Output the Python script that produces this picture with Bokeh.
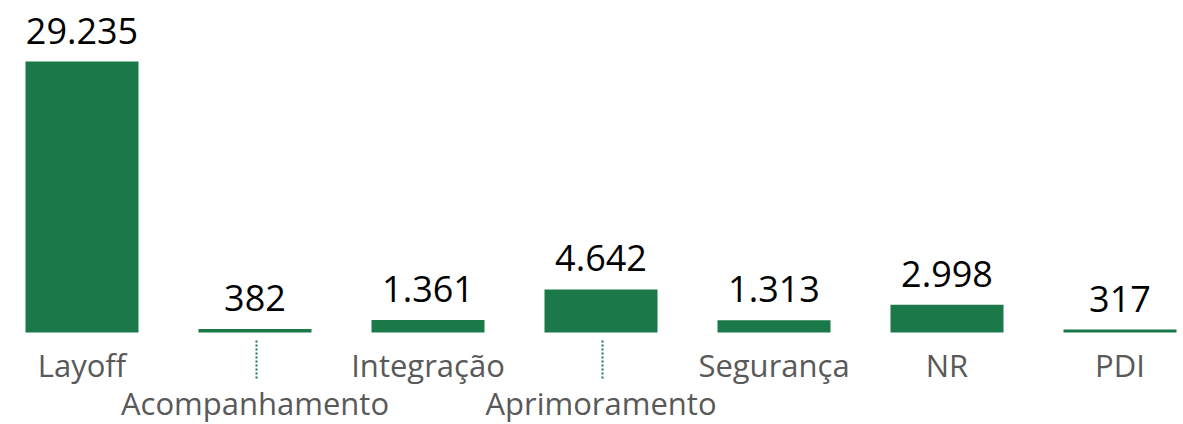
from bokeh.plotting import figure
from bokeh.models import Range1d, ColumnDataSource
from bokeh.core.properties import value
from bokeh.embed import file_html
from bokeh.resources import INLINE

categories = ["Layoff", "Acompanhamento", "Integração", "Aprimoramento", "Segurança", "NR", "PDI"]
values = [29235, 382, 1361, 4642, 1313, 2998, 317]
value_labels = ["29.235", "382", "1.361", "4.642", "1.313", "2.998", "317"]
label_row = [0, 1, 0, 1, 0, 0, 0]  # 1 = staggered lower row with leader line

W, H = 1183, 424
base_px = 332          # baseline position in frame px from top
px_per_unit_y = 271 / 29235.0
ymax = base_px / px_per_unit_y
ymin = -(H - base_px) / px_per_unit_y
x_px = 173.0
x0_px = 81.5
xs = list(range(len(categories)))

p = figure(width=W, height=H, output_backend="svg", toolbar_location=None,
           x_range=Range1d(-x0_px / x_px, (W - x0_px) / x_px),
           y_range=Range1d(ymin, ymax),
           min_border=0, min_border_left=0, min_border_right=0,
           min_border_top=0, min_border_bottom=0)
p.axis.visible = False
p.grid.visible = False
p.outline_line_color = None
p.background_fill_color = "white"
p.border_fill_color = "white"

src = ColumnDataSource(dict(x=xs, top=values, lbl=value_labels, cat=categories))
p.vbar(x="x", top="top", bottom=0, width=113 / x_px, source=src,
       fill_color="#1A7849", line_color=None)

p.text(x="x", y="top", text="lbl", source=src, text_align="center",
       text_baseline="bottom", y_offset=-18, text_font=value("Open Sans"),
       text_font_size="36px", text_color="#000000")

row0 = [i for i in xs if label_row[i] == 0]
row1 = [i for i in xs if label_row[i] == 1]
p.text(x=row0, y=[0] * len(row0), text=[categories[i] for i in row0],
       text_align="center", text_baseline="middle", y_offset=32,
       text_font=value("Open Sans"), text_font_size="31px", text_color="#595959")
p.text(x=row1, y=[0] * len(row1), text=[categories[i] for i in row1],
       text_align="center", text_baseline="middle", y_offset=70,
       text_font=value("Open Sans"), text_font_size="31px", text_color="#595959")

# dotted leader lines for staggered labels
p.segment(x0=[i + 1.5 / x_px for i in row1], x1=[i + 1.5 / x_px for i in row1],
          y0=[-8 / px_per_unit_y] * len(row1), y1=[-46 / px_per_unit_y] * len(row1),
          line_color="#1A7849", line_width=2, line_dash="2 2")

open("out.html", "w").write(file_html(p, INLINE))
